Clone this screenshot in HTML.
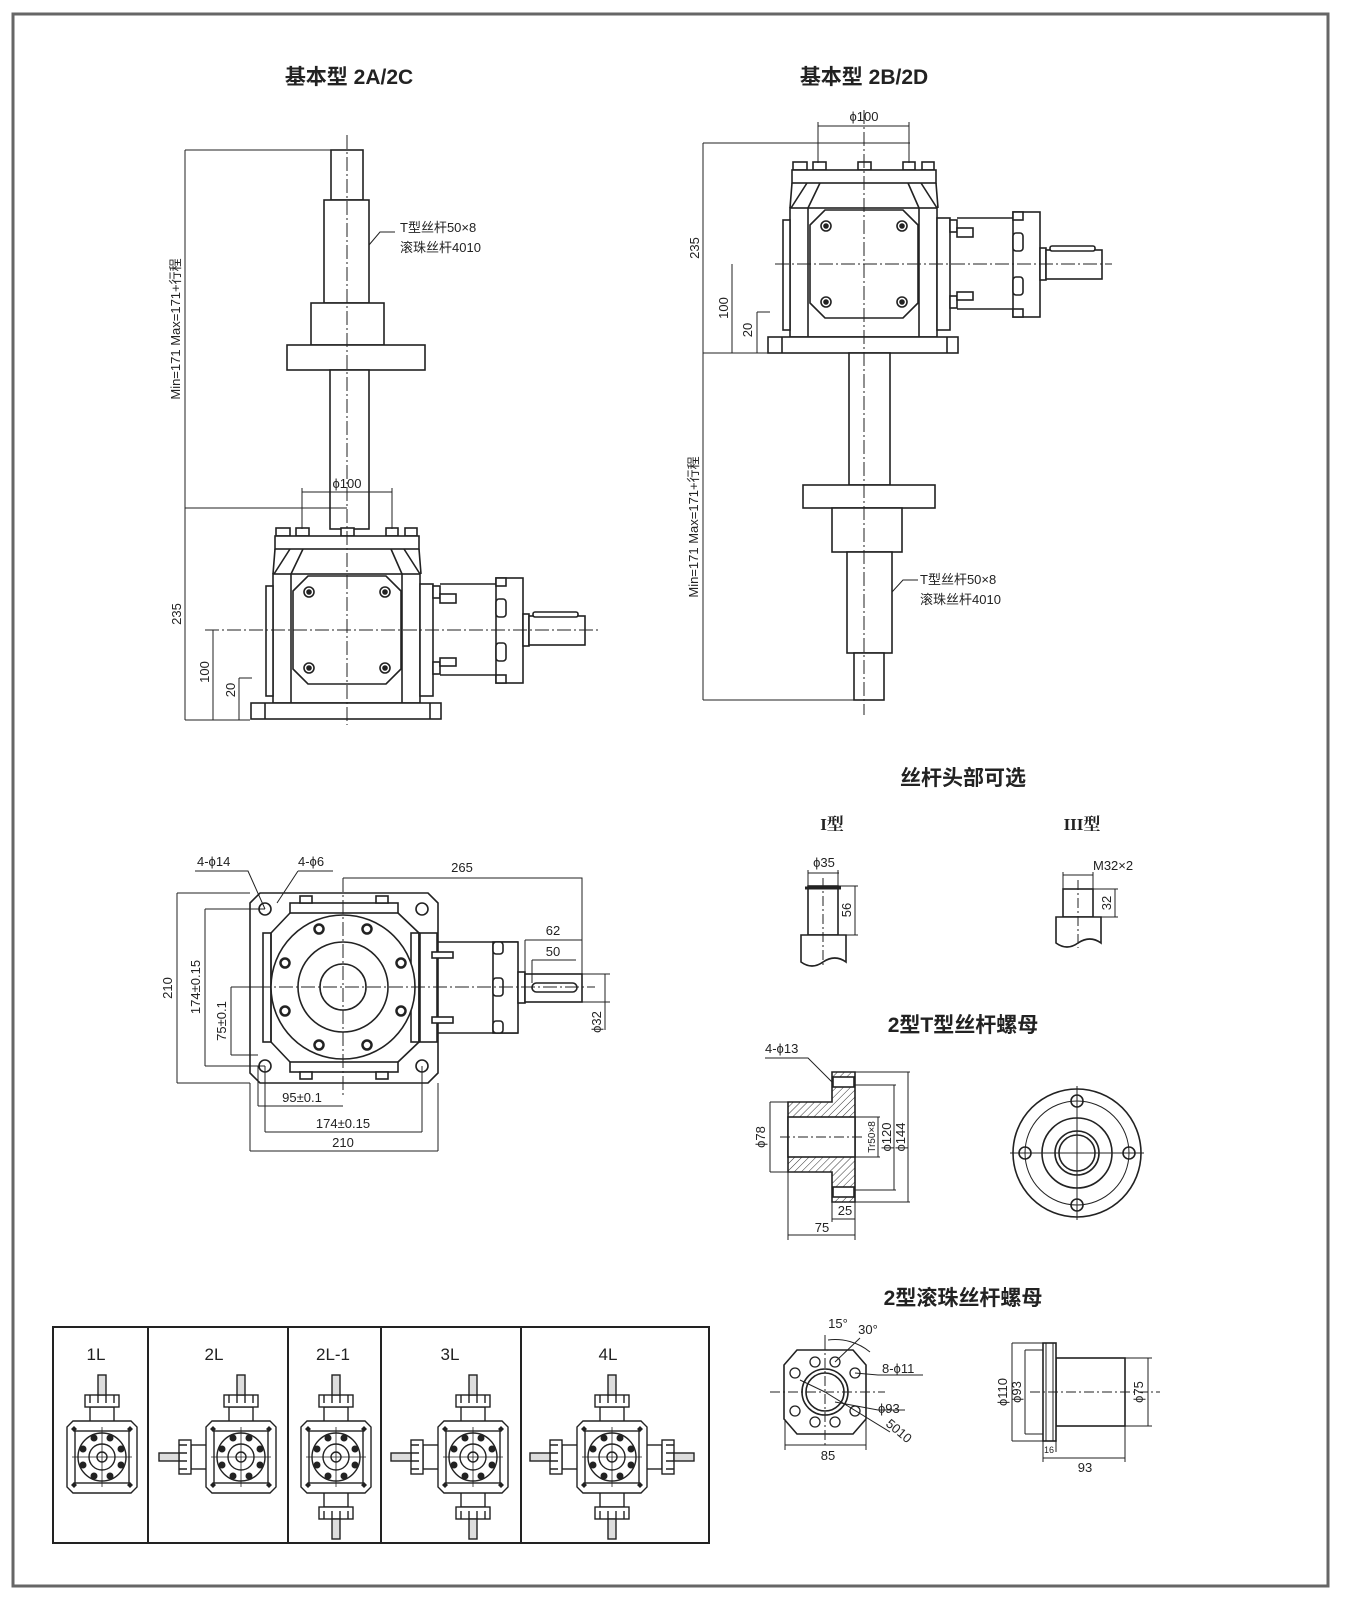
<!DOCTYPE html>
<html><head><meta charset="utf-8"><style>
html,body{margin:0;padding:0;background:#fff;}
svg{display:block;}
text{font-family:"Liberation Sans","Noto Sans CJK SC",sans-serif;fill:#222;}
.t{font-size:21px;font-weight:bold;}
.d{font-size:13px;}
</style></head><body>
<svg width="1355" height="1600" viewBox="0 0 1355 1600" xmlns="http://www.w3.org/2000/svg">
<defs>
<pattern id="h" width="5" height="5" patternUnits="userSpaceOnUse" patternTransform="rotate(45)"><line x1="0" y1="0" x2="0" y2="5" stroke="#333" stroke-width="1"/></pattern>
<g id="gb" fill="#fff" stroke="#222" stroke-width="1.6">
 <rect x="793" y="162" width="14" height="8"/><rect x="813" y="162" width="13" height="8"/><rect x="858" y="162" width="13" height="8"/><rect x="903" y="162" width="12" height="8"/><rect x="922" y="162" width="12" height="8"/>
 <rect x="792" y="170" width="144" height="13"/>
 <path d="M792 183 L790 208 M807 183 L791 208 M820 183 L808 208 M936 183 L938 208 M921 183 L937 208 M908 183 L919 208" fill="none"/>
 <rect x="790" y="208" width="147" height="129"/>
 <rect x="783" y="220" width="7" height="110"/><rect x="937" y="218" width="13" height="112"/>
 <path d="M808 208 V337 M919 208 V337" fill="none"/>
 <path d="M825 210 H903 L918 225 V303 L903 318 H825 L810 303 V225 Z"/>
 <g fill="none"><circle cx="826" cy="226" r="5"/><circle cx="902" cy="226" r="5"/><circle cx="826" cy="302" r="5"/><circle cx="902" cy="302" r="5"/></g>
 <g fill="#222"><circle cx="826" cy="226" r="2"/><circle cx="902" cy="226" r="2"/><circle cx="826" cy="302" r="2"/><circle cx="902" cy="302" r="2"/></g>
 <rect x="768" y="337" width="190" height="16"/>
 <path d="M782 337 V353 M947 337 V353" fill="none"/>
 <rect x="950" y="220" width="7" height="12"/><rect x="957" y="228" width="16" height="9"/>
 <rect x="950" y="296" width="7" height="12"/><rect x="957" y="292" width="16" height="8"/>
 <path d="M957 218 H1013 M957 309 H1013" fill="none"/>
 <rect x="1013" y="212" width="27" height="105"/>
 <rect x="1013" y="212" width="10" height="8"/><rect x="1013" y="233" width="10" height="18" rx="3"/><rect x="1013" y="277" width="10" height="18" rx="3"/><rect x="1013" y="309" width="10" height="8"/>
 <rect x="1040" y="248" width="6" height="32"/>
 <rect x="1046" y="250" width="56" height="29"/>
 <rect x="1050" y="246" width="45" height="5" rx="2"/>
</g>
<g id="ic" fill="#fff" stroke="#222" stroke-width="1.4">
 <path d="M-29 -36 H29 L35 -30 V30 L29 36 H-29 L-35 30 V-30 Z"/>
 <rect x="-27" y="-26" width="54" height="52"/>
 <circle cx="0" cy="0" r="24"/><circle cx="0" cy="0" r="13"/><circle cx="0" cy="0" r="5"/>
 <path d="M-30 0 H30 M0 -30 V30" fill="none" stroke-width="0.8"/>
 <g fill="#222" stroke="none"><circle cx="8" cy="-19" r="3.5"/><circle cx="-8" cy="-19" r="3.5"/><circle cx="8" cy="19" r="3.5"/><circle cx="-8" cy="19" r="3.5"/><circle cx="19" cy="8" r="3.5"/><circle cx="19" cy="-8" r="3.5"/><circle cx="-19" cy="8" r="3.5"/><circle cx="-19" cy="-8" r="3.5"/>
 <path d="M-28 -31 l3 3 -3 3 -3 -3Z M28 -31 l3 3 -3 3 -3 -3Z M-28 25 l3 3 -3 3 -3 -3Z M28 25 l3 3 -3 3 -3 -3Z"/></g>
</g>
<g id="up" fill="#fff" stroke="#222" stroke-width="1.4">
 <rect x="-12" y="-50" width="24" height="16"/>
 <rect x="-17" y="-62" width="34" height="12"/>
 <path d="M-12 -62 v8 M-4 -62 v8 M4 -62 v8 M12 -62 v8" fill="none"/>
 <rect x="-4" y="-82" width="8" height="20" fill="#ddd"/>
</g>
</defs>

<rect x="13" y="14" width="1315" height="1572" fill="none" stroke="#666" stroke-width="3"/>

<text class="t" x="349" y="84" text-anchor="middle">基本型 2A/2C</text>
<text class="t" x="864" y="84" text-anchor="middle">基本型 2B/2D</text>

<!-- LEFT 2A/2C -->
<g fill="#fff" stroke="#222" stroke-width="1.6">
 <rect x="331" y="150" width="32" height="50"/>
 <rect x="324" y="200" width="45" height="103"/>
 <rect x="311" y="303" width="73" height="42"/>
 <rect x="287" y="345" width="138" height="25"/>
 <rect x="330" y="370" width="39" height="159"/>
</g>
<use href="#gb" transform="translate(-517,366)"/>
<g stroke="#222" stroke-width="1" fill="none">
 <path d="M347 135 V725" stroke-dasharray="14 3 2 3"/>
 <path d="M205 630 H600" stroke-dasharray="14 3 2 3"/>
 <path d="M185 150 V720 M185 150 H335 M185 508 H347 M185 720 H250"/>
 <path d="M302 492 H392 M302 488 V529 M392 488 V529"/>
 <path d="M213 630 V720 M239 678 V720 M239 678 H252"/>
 <path d="M369 245 L380 232 H395"/>
</g>
<text class="d" x="347" y="488" text-anchor="middle">ϕ100</text>
<text class="d" x="400" y="232">T型丝杆50×8</text>
<text class="d" x="400" y="252">滚珠丝杆4010</text>
<text class="d" transform="translate(180,329) rotate(-90)" text-anchor="middle">Min=171  Max=171+行程</text>
<text class="d" transform="translate(181,614) rotate(-90)" text-anchor="middle">235</text>
<text class="d" transform="translate(209,672) rotate(-90)" text-anchor="middle">100</text>
<text class="d" transform="translate(235,690) rotate(-90)" text-anchor="middle">20</text>

<!-- RIGHT 2B/2D -->
<use href="#gb"/>
<g fill="#fff" stroke="#222" stroke-width="1.6">
 <rect x="849" y="353" width="41" height="132"/>
 <rect x="803" y="485" width="132" height="23"/>
 <rect x="832" y="508" width="70" height="44"/>
 <rect x="847" y="552" width="45" height="101"/>
 <rect x="854" y="653" width="30" height="47"/>
</g>
<g stroke="#222" stroke-width="1" fill="none">
 <path d="M864 110 V715" stroke-dasharray="14 3 2 3"/>
 <path d="M775 264 H1112" stroke-dasharray="14 3 2 3"/>
 <path d="M703 143 V700 M703 143 H910 M703 353 H770 M703 700 H860"/>
 <path d="M818 126 H909 M818 122 V163 M909 122 V163"/>
 <path d="M732 264 V353 M757 312 V353 M757 312 H770"/>
 <path d="M892 592 L903 580 H918"/>
</g>
<text class="d" x="864" y="121" text-anchor="middle">ϕ100</text>
<text class="d" x="920" y="584">T型丝杆50×8</text>
<text class="d" x="920" y="604">滚珠丝杆4010</text>
<text class="d" transform="translate(698,527) rotate(-90)" text-anchor="middle">Min=171  Max=171+行程</text>
<text class="d" transform="translate(699,248) rotate(-90)" text-anchor="middle">235</text>
<text class="d" transform="translate(728,308) rotate(-90)" text-anchor="middle">100</text>
<text class="d" transform="translate(752,330) rotate(-90)" text-anchor="middle">20</text>

<!-- TOP VIEW -->
<g fill="#fff" stroke="#222" stroke-width="1.6">
 <path d="M260 893 H428 L438 903 V1073 L428 1083 H260 L250 1073 V903 Z"/>
 <rect x="263" y="933" width="8" height="109"/><rect x="411" y="933" width="8" height="109"/>
 <rect x="290" y="903" width="108" height="10"/><rect x="290" y="1062" width="108" height="10"/>
 <rect x="300" y="896" width="12" height="7"/><rect x="376" y="896" width="12" height="7"/>
 <rect x="300" y="1072" width="12" height="7"/><rect x="376" y="1072" width="12" height="7"/>
 <path d="M290 913 L271 933 M398 913 L419 933 M290 1062 L271 1042 M398 1062 L419 1042 M271 933 V1042 M419 933 V1042" fill="none"/>
 <circle cx="343" cy="987" r="72"/><circle cx="343" cy="987" r="45"/><circle cx="343" cy="987" r="23"/>
 <g fill="none"><circle cx="265" cy="909" r="6"/><circle cx="422" cy="909" r="6"/><circle cx="265" cy="1066" r="6"/><circle cx="422" cy="1066" r="6"/></g>
 <g stroke-width="2.5">
  <circle cx="319" cy="929" r="4.5"/><circle cx="367" cy="929" r="4.5"/><circle cx="319" cy="1045" r="4.5"/><circle cx="367" cy="1045" r="4.5"/>
  <circle cx="285" cy="963" r="4.5"/><circle cx="401" cy="963" r="4.5"/><circle cx="285" cy="1011" r="4.5"/><circle cx="401" cy="1011" r="4.5"/>
 </g>
 <rect x="420" y="933" width="17" height="109"/>
 <rect x="432" y="952" width="21" height="6"/><rect x="432" y="1017" width="21" height="6"/>
 <path d="M438 942 H518 M438 1033 H518" fill="none"/>
 <rect x="493" y="942" width="25" height="91"/>
 <rect x="493" y="942" width="10" height="12" rx="3"/><rect x="493" y="978" width="10" height="18" rx="3"/><rect x="493" y="1021" width="10" height="12" rx="3"/>
 <rect x="518" y="972" width="7" height="31"/>
 <rect x="525" y="974" width="57" height="28"/>
 <rect x="532" y="983" width="45" height="9" rx="4.5"/>
</g>
<g stroke="#222" stroke-width="1" fill="none">
 <path d="M235 987 H595 M343 878 V1095" stroke-dasharray="14 3 2 3"/>
 <path d="M343 878 H582 V1002"/>
 <path d="M525 940 H582 M525 940 V972 M532 960 H576 M532 960 V983"/>
 <path d="M582 974 H610 M582 1002 H610 M605 974 V1030"/>
 <path d="M177 893 V1083 M177 893 H250 M177 1083 H250"/>
 <path d="M205 909 V1066 M205 909 H265 M205 1066 H265"/>
 <path d="M231 987 V1055 M231 987 H270 M231 1055 H258"/>
 <path d="M258 1106 H343 M258 1066 V1106"/>
 <path d="M265 1132 H422 M265 1066 V1132 M422 1066 V1132"/>
 <path d="M250 1151 H438 M250 1083 V1151 M438 1083 V1151"/>
 <path d="M195 871 H248 L265 909 M298 871 H333 M298 871 L277 903"/>
</g>
<text class="d" x="197" y="866">4-ϕ14</text>
<text class="d" x="298" y="866">4-ϕ6</text>
<text class="d" x="462" y="872" text-anchor="middle">265</text>
<text class="d" x="553" y="935" text-anchor="middle">62</text>
<text class="d" x="553" y="956" text-anchor="middle">50</text>
<text class="d" transform="translate(601,1022) rotate(-90)" text-anchor="middle">ϕ32</text>
<text class="d" transform="translate(172,988) rotate(-90)" text-anchor="middle">210</text>
<text class="d" transform="translate(200,987) rotate(-90)" text-anchor="middle">174±0.15</text>
<text class="d" transform="translate(226,1021) rotate(-90)" text-anchor="middle">75±0.1</text>
<text class="d" x="302" y="1102" text-anchor="middle">95±0.1</text>
<text class="d" x="343" y="1128" text-anchor="middle">174±0.15</text>
<text class="d" x="343" y="1147" text-anchor="middle">210</text>

<!-- 丝杆头部可选 -->
<text class="t" x="963" y="785" text-anchor="middle">丝杆头部可选</text>
<text x="832" y="830" text-anchor="middle" style="font-family:'Liberation Serif','Noto Serif CJK SC',serif;font-weight:bold;font-size:17px">I型</text>
<text x="1082" y="830" text-anchor="middle" style="font-family:'Liberation Serif','Noto Serif CJK SC',serif;font-weight:bold;font-size:17px">III型</text>
<g fill="#fff" stroke="#222" stroke-width="1.6">
 <rect x="808" y="886" width="30" height="49"/>
 <path d="M801 935 H846 V962 Q835 954 823 962 Q812 970 801 962 Z"/>
 <rect x="1063" y="889" width="30" height="28"/>
 <path d="M1056 917 H1101 V943 Q1090 935 1078 943 Q1067 951 1056 943 Z"/>
</g>
<g stroke="#222" stroke-width="1" fill="none">
 <path d="M823 878 V968 M1078 880 V948" stroke-dasharray="10 3 2 3"/>
 <path d="M808 873 H839 M808 870 V886 M838 870 V886 M838 886 H858 M838 935 H858 M855 886 V935"/>
 <path d="M1063 875 H1093 M1063 872 V889 M1093 872 V889 M1093 889 H1118 M1093 917 H1118 M1115 889 V917"/>
 <path d="M805 888 H841" stroke-width="3"/>
</g>
<text class="d" x="824" y="867" text-anchor="middle">ϕ35</text>
<text class="d" transform="translate(851,910) rotate(-90)" text-anchor="middle">56</text>
<text class="d" x="1093" y="870">M32×2</text>
<text class="d" transform="translate(1111,903) rotate(-90)" text-anchor="middle">32</text>

<!-- 2型T型丝杆螺母 -->
<text class="t" x="963" y="1032" text-anchor="middle">2型T型丝杆螺母</text>
<g stroke="#222" stroke-width="1.6">
 <path d="M832 1072 H855 V1202 H832 V1172 H788 V1102 H832 Z" fill="url(#h)"/>
 <rect x="788" y="1117" width="67" height="40" fill="#fff"/>
 <rect x="833" y="1077" width="21" height="10" fill="#fff"/>
 <rect x="833" y="1187" width="21" height="10" fill="#fff"/>
</g>
<g stroke="#222" stroke-width="1" fill="none">
 <path d="M780 1137 H865" stroke-dasharray="10 3 2 3"/>
 <path d="M770 1102 V1172 M770 1102 H788 M770 1172 H788"/>
 <path d="M855 1117 H880 M855 1157 H880 M878 1117 V1157 M855 1085 H896 M855 1190 H896 M894 1085 V1190 M855 1072 H910 M855 1202 H910 M908 1072 V1202"/>
 <path d="M832 1202 V1222 M855 1202 V1240 M788 1172 V1240 M832 1219 H855 M788 1235 H855"/>
 <path d="M765 1058 H808 L832 1082"/>
</g>
<text class="d" x="765" y="1053">4-ϕ13</text>
<text class="d" transform="translate(765,1137) rotate(-90)" text-anchor="middle">ϕ78</text>
<text transform="translate(875,1137) rotate(-90)" text-anchor="middle" style="font-size:10px">Tr50×8</text>
<text class="d" transform="translate(891,1137) rotate(-90)" text-anchor="middle">ϕ120</text>
<text class="d" transform="translate(905,1137) rotate(-90)" text-anchor="middle">ϕ144</text>
<text class="d" x="845" y="1215" text-anchor="middle">25</text>
<text class="d" x="822" y="1232" text-anchor="middle">75</text>
<g fill="none" stroke="#222" stroke-width="1.6">
 <circle cx="1077" cy="1153" r="64"/><circle cx="1077" cy="1153" r="52" stroke-width="1"/>
 <circle cx="1077" cy="1153" r="35"/><circle cx="1077" cy="1153" r="22"/><circle cx="1077" cy="1153" r="18"/>
 <circle cx="1077" cy="1101" r="6"/><circle cx="1077" cy="1205" r="6"/><circle cx="1025" cy="1153" r="6"/><circle cx="1129" cy="1153" r="6"/>
 <path d="M1010 1153 H1144 M1077 1086 V1220" stroke-width="1"/>
</g>

<!-- 2型滚珠丝杆螺母 -->
<text class="t" x="963" y="1305" text-anchor="middle">2型滚珠丝杆螺母</text>
<g fill="none" stroke="#222" stroke-width="1.6">
 <path d="M797 1350 H853 L866 1365 V1419 L853 1434 H797 L784 1419 V1365 Z"/>
 <circle cx="825" cy="1392" r="23"/><circle cx="825" cy="1392" r="19"/>
 <g stroke-width="1.3">
  <circle cx="815" cy="1362" r="5"/><circle cx="835" cy="1362" r="5"/><circle cx="795" cy="1373" r="5"/><circle cx="855" cy="1373" r="5"/>
  <circle cx="815" cy="1422" r="5"/><circle cx="835" cy="1422" r="5"/><circle cx="795" cy="1411" r="5"/><circle cx="855" cy="1411" r="5"/>
 </g>
 <path d="M770 1392 H885 M825 1340 V1445" stroke-width="1" stroke-dasharray="10 3 2 3"/>
 <path d="M825 1392 L800 1380 M825 1392 L890 1432 M855 1373 L878 1375 H923 M835 1402 L878 1410 H905" stroke-width="1"/>
 <path d="M825 1345 V1335 M835 1362 L860 1338 M828 1340 A55 55 0 0 1 870 1352" stroke-width="1"/>
 <path d="M785 1419 V1450 M866 1419 V1450 M785 1445 H866" stroke-width="1"/>
</g>
<text class="d" x="838" y="1328" text-anchor="middle">15°</text>
<text class="d" x="868" y="1334" text-anchor="middle">30°</text>
<text class="d" x="882" y="1373">8-ϕ11</text>
<text class="d" x="878" y="1413">ϕ93</text>
<text class="d" transform="translate(885,1425) rotate(40)">5010</text>
<text class="d" x="828" y="1460" text-anchor="middle">85</text>
<g fill="#fff" stroke="#222" stroke-width="1.6">
 <rect x="1056" y="1358" width="69" height="68"/>
 <rect x="1043" y="1343" width="13" height="98"/>
 <rect x="1046" y="1343" width="7" height="98" fill="none" stroke-width="1"/>
</g>
<g stroke="#222" stroke-width="1" fill="none">
 <path d="M1030 1392 H1160" stroke-dasharray="10 3 2 3"/>
 <path d="M1012 1343 V1441 M1012 1343 H1043 M1012 1441 H1043"/>
 <path d="M1025 1350 V1434 M1025 1350 H1043 M1025 1434 H1043"/>
 <path d="M1148 1358 V1426 M1125 1358 H1152 M1125 1426 H1152"/>
 <path d="M1043 1441 V1462 M1125 1426 V1462 M1043 1458 H1125 M1056 1441 V1452"/>
</g>
<text class="d" transform="translate(1007,1392) rotate(-90)" text-anchor="middle">ϕ110</text>
<text class="d" transform="translate(1021,1392) rotate(-90)" text-anchor="middle">ϕ93</text>
<text class="d" transform="translate(1143,1392) rotate(-90)" text-anchor="middle">ϕ75</text>
<text x="1049" y="1453" text-anchor="middle" style="font-size:9px">16</text>
<text class="d" x="1085" y="1472" text-anchor="middle">93</text>

<!-- TABLE -->
<rect x="53" y="1327" width="656" height="216" fill="none" stroke="#222" stroke-width="2"/>
<path d="M148 1327 V1543 M288 1327 V1543 M381 1327 V1543 M521 1327 V1543" stroke="#222" stroke-width="2" fill="none"/>
<g style="font-size:17px" text-anchor="middle">
<text x="96" y="1360">1L</text><text x="214" y="1360">2L</text><text x="333" y="1360">2L-1</text><text x="450" y="1360">3L</text><text x="608" y="1360">4L</text>
</g>
<g>
 <use href="#up" transform="translate(102,1457)"/><use href="#ic" transform="translate(102,1457)"/>
 <use href="#up" transform="translate(241,1457)"/><use href="#up" transform="translate(241,1457) rotate(-90)"/><use href="#ic" transform="translate(241,1457)"/>
 <use href="#up" transform="translate(336,1457)"/><use href="#up" transform="translate(336,1457) rotate(180)"/><use href="#ic" transform="translate(336,1457)"/>
 <use href="#up" transform="translate(473,1457)"/><use href="#up" transform="translate(473,1457) rotate(180)"/><use href="#up" transform="translate(473,1457) rotate(-90)"/><use href="#ic" transform="translate(473,1457)"/>
 <use href="#up" transform="translate(612,1457)"/><use href="#up" transform="translate(612,1457) rotate(180)"/><use href="#up" transform="translate(612,1457) rotate(-90)"/><use href="#up" transform="translate(612,1457) rotate(90)"/><use href="#ic" transform="translate(612,1457)"/>
</g>
</svg>
</body></html>
